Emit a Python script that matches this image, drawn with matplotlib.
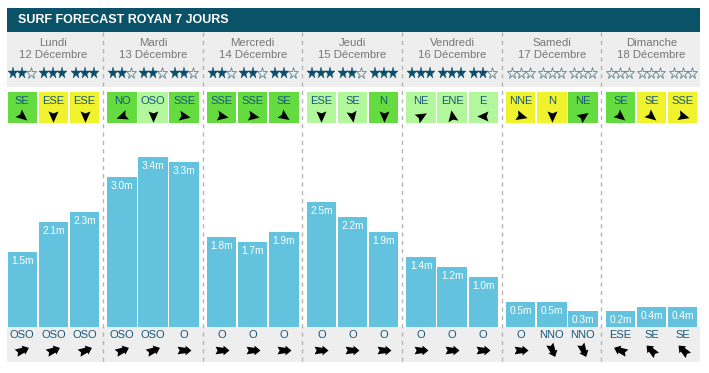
import matplotlib
matplotlib.use("Agg")
import matplotlib.pyplot as plt
from matplotlib.path import Path
from matplotlib.markers import MarkerStyle
from matplotlib.transforms import Affine2D
from matplotlib.patches import Rectangle

plt.rcParams['font.family'] = ['Liberation Sans', 'DejaVu Sans']

# ---------------- data ----------------
title = "SURF FORECAST ROYAN 7 JOURS"
days = ["Lundi", "Mardi", "Mercredi", "Jeudi", "Vendredi", "Samedi", "Dimanche"]
dates = ["12 Décembre", "13 Décembre", "14 Décembre", "15 Décembre",
         "16 Décembre", "17 Décembre", "18 Décembre"]
wave_heights = [1.5, 2.1, 2.3, 3.0, 3.4, 3.3, 1.8, 1.7, 1.9, 2.5, 2.2, 1.9,
                1.4, 1.2, 1.0, 0.5, 0.5, 0.3, 0.2, 0.4, 0.4]
star_ratings = [2, 3, 3, 2, 2, 2, 2, 2, 2, 3, 2, 3, 3, 3, 2, 0, 0, 0, 0, 0, 0]
wind_dirs = ["SE", "ESE", "ESE", "NO", "OSO", "SSE", "SSE", "SSE", "SE",
             "ESE", "SE", "N", "NE", "ENE", "E", "NNE", "N", "NE", "SE", "SE", "SSE"]
wind_class = ["g", "y", "y", "g", "l", "g", "g", "g", "g", "l", "l", "g",
              "l", "l", "l", "y", "y", "g", "g", "y", "y"]
wind_icon_angle = [-40, -90, -90, 200, -90, -10, -10, -10, -35, -90, -80, -90,
                   30, 100, 180, -15, -90, 35, -40, -40, -15]
swell_dirs = ["OSO", "OSO", "OSO", "OSO", "OSO", "O", "O", "O", "O", "O", "O", "O",
              "O", "O", "O", "O", "NNO", "NNO", "ESE", "SE", "SE"]
compass = {"N": 0, "NNE": 22.5, "NE": 45, "ENE": 67.5, "E": 90, "ESE": 112.5,
           "SE": 135, "SSE": 157.5, "S": 180, "SSO": 202.5, "SO": 225,
           "OSO": 247.5, "O": 270, "ONO": 292.5, "NO": 315, "NNO": 337.5}

# ---------------- style ----------------
W, H = 709, 373
teal = "#0a5267"
gray_bg = "#eeeeee"
bar_col = "#63c3de"
txt_blue = "#17587a"
box_cols = {"g": "#64dc3f", "y": "#eff22d", "l": "#b3f79c"}

day_w = 99.68
x0 = 3.6
slot_pitch = 31.1
box_w = 29.4
px_per_m = 50.0
baseline = 326.7


def slot_x(k):
    d, j = divmod(k, 3)
    return x0 + day_w * d + 18.7 + slot_pitch * j


fig = plt.figure(figsize=(W / 100, H / 100), dpi=100)
bg = fig.add_axes([0, 0, 1, 1])
bg.set_xlim(0, W)
bg.set_ylim(H, 0)
bg.axis("off")

# title bar
bg.add_patch(Rectangle((7, 8), 693, 23.7, color=teal, lw=0))
bg.text(18, 20, title, color="white", fontsize=9, fontweight="bold",
        va="center", ha="left")
# header gray
bg.add_patch(Rectangle((7, 31.7), 693, 55.0, color=gray_bg, lw=0))
# bottom gray
bg.add_patch(Rectangle((7, baseline), 693, 35.0, color=gray_bg, lw=0))

# separators
for k in range(1, 7):
    xs = x0 + day_w * k - 0.3
    bg.plot([xs, xs], [31.7, 361.7], color="#b5b5b5", lw=1.0,
            ls=(0, (3, 3)), zorder=1)

# day labels
for i, (dn, dt) in enumerate(zip(days, dates)):
    cx = slot_x(3 * i + 1)
    bg.text(cx, 43.5, dn, ha="center", va="center", color="#777777", fontsize=8.2)
    bg.text(cx, 55.5, dt, ha="center", va="center", color="#777777", fontsize=8.2)

# navigation arrow and swell arrow shapes
nav_path = Path([(1, 0), (-0.8, 0.8), (-0.5, 0), (-0.8, -0.8), (1, 0)],
                [Path.MOVETO, Path.LINETO, Path.LINETO, Path.LINETO, Path.CLOSEPOLY])
swell_path = Path([(1, 0), (0.15, 0.7), (0.15, 0.38), (-1, 0.55), (-0.7, 0),
                   (-1, -0.55), (0.15, -0.38), (0.15, -0.7), (1, 0)],
                  [Path.MOVETO] + [Path.LINETO] * 7 + [Path.CLOSEPOLY])

for k in range(21):
    cx = slot_x(k)
    # stars
    r = star_ratings[k]
    for s in range(3):
        sx = cx - 9 + 9 * s
        if s < r:
            bg.plot(sx, 72.7, marker="*", ms=8.3, color="#0b4f6c", mec="#0b4f6c", mew=0.3)
        else:
            bg.plot(sx, 72.7, marker="*", ms=8.3, mfc="none", mec="#5d8593", mew=0.6)
    # wind box
    bg.add_patch(Rectangle((cx - box_w / 2, 91.7), box_w, 31.0,
                           color=box_cols[wind_class[k]], lw=0))
    bg.text(cx, 100.5, wind_dirs[k], ha="center", va="center", color=txt_blue, fontsize=8)
    m = MarkerStyle(nav_path, transform=Affine2D().rotate_deg(wind_icon_angle[k]))
    bg.plot(cx, 115.5, marker=m, ms=9, color="black", mew=0)
    # swell
    bg.text(cx, 335.5, swell_dirs[k], ha="center", va="center", color=txt_blue, fontsize=8)
    ang = 90 - (compass[swell_dirs[k]] + 180)
    m2 = MarkerStyle(swell_path, transform=Affine2D().rotate_deg(ang))
    bg.plot(cx, 349.5, marker=m2, ms=10, color="black", mew=0)

# bars axes in metres
ax = fig.add_axes([0, (H - baseline) / H, 1, 200 / H])
ax.set_xlim(0, W)
ax.set_ylim(0, 200 / px_per_m)
ax.axis("off")
ax.patch.set_alpha(0)
xs = [slot_x(k) for k in range(21)]
min_h = 16 / px_per_m
shown = [max(v, min_h) for v in wave_heights]
ax.bar(xs, shown, width=box_w, color=bar_col, lw=0)
for x, v, sh in zip(xs, wave_heights, shown):
    ax.annotate(f"{v:.1f}m", (x, sh), xytext=(0, -9.5), textcoords="offset pixels",
                ha="center", va="center", color="white", fontsize=7.3)

fig.savefig("out.png", dpi=100)
